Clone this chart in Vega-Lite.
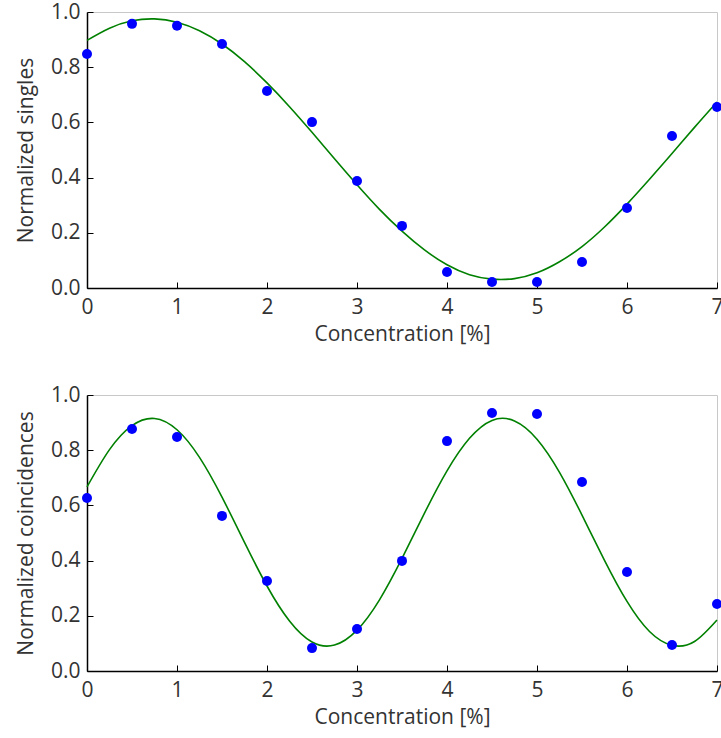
{
  "$schema": "https://vega.github.io/schema/vega-lite/v6.json",
  "padding": {"top": 0, "left": 14, "right": 0, "bottom": 5},
  "spacing": 38,
  "config": {
    "font": "Open Sans",
    "view": {"stroke": "#c8c8c8", "strokeWidth": 1},
    "axis": {
      "grid": false,
      "domainColor": "black",
      "domainWidth": 1.5,
      "tickColor": "black",
      "tickWidth": 1,
      "tickSize": -6,
      "labelFontSize": 21,
      "labelColor": "#333333",
      "labelFlush": false,
      "titleFontSize": 21,
      "titleFontWeight": "normal",
      "titleColor": "#333333"
    },
    "axisX": {"labelPadding": 14, "titlePadding": 6},
    "axisY": {"labelPadding": 13, "titlePadding": 14}
  },
  "datasets": {
    "singlesPts": [
      {"c": 0, "v": 0.848}, {"c": 0.5, "v": 0.957}, {"c": 1, "v": 0.95}, {"c": 1.5, "v": 0.884},
      {"c": 2, "v": 0.714}, {"c": 2.5, "v": 0.601}, {"c": 3, "v": 0.388}, {"c": 3.5, "v": 0.225},
      {"c": 4, "v": 0.058}, {"c": 4.5, "v": 0.022}, {"c": 5, "v": 0.022}, {"c": 5.5, "v": 0.094},
      {"c": 6, "v": 0.29}, {"c": 6.5, "v": 0.551}, {"c": 7, "v": 0.656}
    ],
    "singlesFit": [
      {"c": 0, "v": 0.897}, {"c": 0.25, "v": 0.941}, {"c": 0.5, "v": 0.968}, {"c": 0.75, "v": 0.975},
      {"c": 1.0, "v": 0.963}, {"c": 1.25, "v": 0.932}, {"c": 1.5, "v": 0.884}, {"c": 1.75, "v": 0.820},
      {"c": 2.0, "v": 0.743}, {"c": 2.25, "v": 0.657}, {"c": 2.5, "v": 0.564}, {"c": 2.75, "v": 0.468},
      {"c": 3.0, "v": 0.374}, {"c": 3.25, "v": 0.285}, {"c": 3.5, "v": 0.206}, {"c": 3.75, "v": 0.138},
      {"c": 4.0, "v": 0.084}, {"c": 4.25, "v": 0.048}, {"c": 4.5, "v": 0.032}, {"c": 4.75, "v": 0.034},
      {"c": 5.0, "v": 0.055}, {"c": 5.25, "v": 0.095}, {"c": 5.5, "v": 0.150}, {"c": 5.75, "v": 0.221},
      {"c": 6.0, "v": 0.304}, {"c": 6.25, "v": 0.394}, {"c": 6.5, "v": 0.487}, {"c": 6.75, "v": 0.582},
      {"c": 7.0, "v": 0.674}
    ],
    "coincPts": [
      {"c": 0, "v": 0.627}, {"c": 0.5, "v": 0.877}, {"c": 1, "v": 0.848}, {"c": 1.5, "v": 0.562},
      {"c": 2, "v": 0.326}, {"c": 2.5, "v": 0.083}, {"c": 3, "v": 0.152}, {"c": 3.5, "v": 0.399},
      {"c": 4, "v": 0.833}, {"c": 4.5, "v": 0.935}, {"c": 5, "v": 0.931}, {"c": 5.5, "v": 0.685},
      {"c": 6, "v": 0.359}, {"c": 6.5, "v": 0.094}, {"c": 7, "v": 0.243}
    ],
    "coincFit": [
      {"c": 0, "v": 0.667}, {"c": 0.25, "v": 0.802}, {"c": 0.5, "v": 0.889}, {"c": 0.75, "v": 0.915},
      {"c": 1.0, "v": 0.874}, {"c": 1.25, "v": 0.774}, {"c": 1.5, "v": 0.630}, {"c": 1.75, "v": 0.466},
      {"c": 2.0, "v": 0.308}, {"c": 2.25, "v": 0.181}, {"c": 2.5, "v": 0.105}, {"c": 2.75, "v": 0.094},
      {"c": 3.0, "v": 0.148}, {"c": 3.25, "v": 0.258}, {"c": 3.5, "v": 0.408}, {"c": 3.75, "v": 0.572},
      {"c": 4.0, "v": 0.725}, {"c": 4.25, "v": 0.843}, {"c": 4.5, "v": 0.908}, {"c": 4.75, "v": 0.906},
      {"c": 5.0, "v": 0.840}, {"c": 5.25, "v": 0.720}, {"c": 5.5, "v": 0.565}, {"c": 5.75, "v": 0.401},
      {"c": 6.0, "v": 0.252}, {"c": 6.25, "v": 0.143}, {"c": 6.5, "v": 0.093}, {"c": 6.75, "v": 0.107},
      {"c": 7.0, "v": 0.185}
    ]
  },
  "vconcat": [
    {
      "width": 630,
      "height": 276,
      "layer": [
        {
          "data": {"name": "singlesFit"},
          "mark": {"type": "line", "color": "#008000", "strokeWidth": 1.6, "interpolate": "natural"},
          "encoding": {
            "x": {"field": "c", "type": "quantitative", "scale": {"domain": [0, 7], "nice": false}, "axis": {"values": [0,1,2,3,4,5,6,7], "format": "d", "title": "Concentration [%]"}},
            "y": {"field": "v", "type": "quantitative", "scale": {"domain": [0, 1], "nice": false}, "axis": {"values": [0,0.2,0.4,0.6,0.8,1.0], "format": ".1f", "title": "Normalized singles"}}
          }
        },
        {
          "data": {"name": "singlesPts"},
          "mark": {"type": "circle", "color": "#0000ff", "opacity": 1, "size": 100},
          "encoding": {
            "x": {"field": "c", "type": "quantitative"},
            "y": {"field": "v", "type": "quantitative"}
          }
        }
      ]
    },
    {
      "width": 630,
      "height": 276,
      "layer": [
        {
          "data": {"name": "coincFit"},
          "mark": {"type": "line", "color": "#008000", "strokeWidth": 1.6, "interpolate": "natural"},
          "encoding": {
            "x": {"field": "c", "type": "quantitative", "scale": {"domain": [0, 7], "nice": false}, "axis": {"values": [0,1,2,3,4,5,6,7], "format": "d", "title": "Concentration [%]"}},
            "y": {"field": "v", "type": "quantitative", "scale": {"domain": [0, 1], "nice": false}, "axis": {"values": [0,0.2,0.4,0.6,0.8,1.0], "format": ".1f", "title": "Normalized coincidences"}}
          }
        },
        {
          "data": {"name": "coincPts"},
          "mark": {"type": "circle", "color": "#0000ff", "opacity": 1, "size": 100},
          "encoding": {
            "x": {"field": "c", "type": "quantitative"},
            "y": {"field": "v", "type": "quantitative"}
          }
        }
      ]
    }
  ]
}
